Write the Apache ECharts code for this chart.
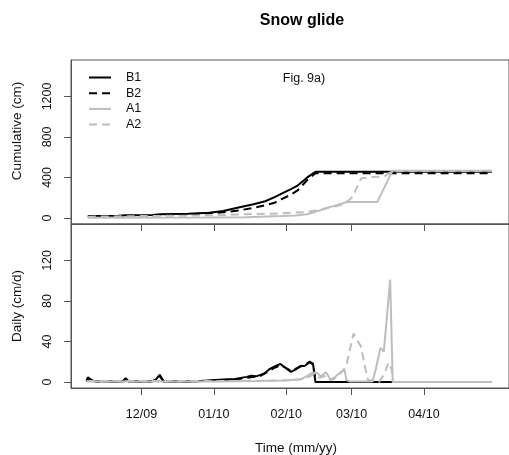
<!DOCTYPE html>
<html>
<head>
<meta charset="utf-8">
<script src="https://cdn.jsdelivr.net/npm/echarts@6/dist/echarts.min.js"></script>
<style>
  html, body { margin: 0; padding: 0; background: #fff; }
  #chart { width: 509px; height: 455px; }
</style>
</head>
<body>
<div id="chart"></div>
<script>
// x values are days counted from 1 Dec 2009
const monthTicks = [0, 31, 62, 90, 121]
const monthLabels = ['12/09', '01/10', '02/10', '03/10', '04/10']
const cumTicks = [0, 400, 800, 1200]
const dailyTicks = [0, 40, 80, 120]

// cumulative glide (cm)
const b1Cum = [[-23,18],[-10,22],[-7,26],[5,30],[8,37],[20,42],[29,52],[35,68],[42,105],[48,135],[53,165],[57,205],[60,240],[64,285],[67,322],[71,400],[74.5,455],[150,455]]
const b2Cum = [[-23,15],[-7,18],[5,22],[8,28],[20,35],[29,45],[35,55],[42,75],[48,100],[53,125],[57,150],[60,185],[64,230],[67,275],[71,375],[74.5,442],[150,442]]
const a1Cum = [[-23,2],[30,4],[45,6],[60,18],[66,25],[71,37],[79,93],[81,109],[86,142],[88,158],[101,158],[107.5,465],[150,465]]
const a2Cum = [[-23,12],[0,18],[30,25],[45,37],[60,45],[71,59],[78,90],[85,125],[88,160],[90.5,208],[92,290],[94,389],[99,405],[104,410],[107.3,462],[150,465]]

// daily glide (cm/d)
const b1Daily = [[-23.5,0.5],[-23,4.5],[-21.5,2],[-20,0.5],[-8,0.5],[-6.8,3.8],[-5.5,0.5],[4,0.5],[6,2],[7.8,7],[9.5,0.5],[22,0.5],[35,2.5],[40,3],[45,5],[47,6],[49,5.5],[51,7],[53,9],[55,13],[57,15.4],[59.5,17.8],[61,15],[64,9.9],[66.5,13],[68.2,15.4],[70,16],[72,19.4],[73.5,17],[74.5,0],[107.6,0]]
const b2Daily = [[-23.5,0.5],[-23,3.5],[-21.5,1.5],[-20,0.5],[-8,0.5],[-6.8,2.5],[-5.5,0.5],[4,0.5],[6,1.5],[7.8,5.5],[9.5,0.5],[22,0.5],[35,2],[40,2.5],[45,4],[51,6],[54,10],[57,14],[59.5,16.5],[61,15],[64,11],[66.5,13.5],[68.2,15.8],[70,17],[72,20],[73.5,18],[74.5,0],[107.6,0]]
const a1Daily = [[-23.5,0.5],[-18,0.5],[-17,0],[-15.5,0.5],[30,0.5],[50,1],[60,1.5],[64,2],[68,2.3],[71,6],[73,9],[75,9],[77,5.5],[79,9.5],[81,2.3],[83,5],[85,9],[87,12],[87.7,2.3],[89,0.5],[98.9,0.5],[100.3,12],[102.3,33.6],[103.8,30],[106.5,101],[107.6,0],[150.2,0]]
const a2Daily = [[-23.5,0.8],[-10,1],[0,1],[30,0.8],[50,1],[62,1.5],[70,3],[74,8],[76,4],[79,6],[81,1.5],[83.4,4],[87.6,15],[90.8,47.8],[94,35],[96,12],[97,2],[101.7,0],[103.8,7],[105.8,19],[107.2,12],[107.6,0],[150.2,0]]

const font = 'Liberation Sans, Arial, sans-serif'
const axisCol = '#555'
const grey = '#bebebe'

const chart = echarts.init(document.getElementById('chart'))

const xAx = (gi, showLabel) => ({
  type: 'value', gridIndex: gi, min: -30.2, max: 157.4,
  axisLine: { show: true, onZero: false, lineStyle: { color: axisCol } },
  axisTick: { show: true, inside: false, length: 7, customValues: monthTicks, lineStyle: { color: axisCol } },
  axisLabel: {
    show: showLabel, customValues: monthTicks, margin: 20,
    fontFamily: font, fontSize: 12.5, color: '#111',
    formatter: v => monthLabels[monthTicks.indexOf(v)] || ''
  },
  splitLine: { show: false }
})

const yAx = (gi, min, max, ticks) => ({
  type: 'value', gridIndex: gi, min, max,
  axisLine: { show: true, onZero: false, lineStyle: { color: axisCol } },
  axisTick: { show: true, inside: false, length: 7, customValues: ticks, lineStyle: { color: axisCol } },
  axisLabel: {
    customValues: ticks, rotate: 90, margin: 17,
    fontFamily: font, fontSize: 12.5, color: '#111',
    formatter: v => String(v)
  },
  splitLine: { show: false }
})

const line = (name, gi, data, color, dashed) => ({
  name, type: 'line', xAxisIndex: gi, yAxisIndex: gi, data,
  symbol: 'none', silent: true, animation: false,
  lineStyle: { color, width: 2, type: dashed ? [8, 5] : 'solid' },
  itemStyle: { color }
})

chart.setOption({
  animation: false,
  grid: [
    { left: 71, top: 60, width: 449, height: 164, show: true, borderColor: axisCol, borderWidth: 1 },
    { left: 71, top: 224, width: 449, height: 164, show: true, borderColor: axisCol, borderWidth: 1 }
  ],
  xAxis: [xAx(0, false), xAx(1, true)],
  yAxis: [yAx(0, -60, 1560, cumTicks), yAx(1, -6, 156, dailyTicks)],
  legend: {
    data: ['B1', 'B2', 'A1', 'A2'],
    orient: 'vertical', left: 88, top: 71, padding: 0,
    itemWidth: 22, itemHeight: 14, itemGap: 2.7,
    itemStyle: { opacity: 0 },
    textStyle: { fontFamily: font, fontSize: 12.5, color: '#111', padding: [0, 0, 0, 10] }
  },
  series: [
    line('B1', 0, b1Cum, '#000', false),
    line('B2', 0, b2Cum, '#000', true),
    line('A1', 0, a1Cum, grey, false),
    line('A2', 0, a2Cum, grey, true),
    line('B1', 1, b1Daily, '#000', false),
    line('B2', 1, b2Daily, '#000', true),
    line('A1', 1, a1Daily, grey, false),
    line('A2', 1, a2Daily, grey, true)
  ],
  graphic: [
    { type: 'text', x: 302, y: 21, style: { text: 'Snow glide', font: 'bold 16px ' + font, fill: '#000', textAlign: 'center', textVerticalAlign: 'middle' } },
    { type: 'text', x: 304, y: 79, style: { text: 'Fig. 9a)', font: '12.5px ' + font, fill: '#111', textAlign: 'center', textVerticalAlign: 'middle' } },
    { type: 'text', x: 17.5, y: 131, rotation: Math.PI / 2, style: { text: 'Cumulative (cm)', font: '13.5px ' + font, fill: '#111', textAlign: 'center', textVerticalAlign: 'middle' } },
    { type: 'text', x: 17.5, y: 306, rotation: Math.PI / 2, style: { text: 'Daily (cm/d)', font: '13.5px ' + font, fill: '#111', textAlign: 'center', textVerticalAlign: 'middle' } },
    { type: 'text', x: 296, y: 448, style: { text: 'Time (mm/yy)', font: '13.5px ' + font, fill: '#111', textAlign: 'center', textVerticalAlign: 'middle' } }
  ]
})
</script>
</body>
</html>
